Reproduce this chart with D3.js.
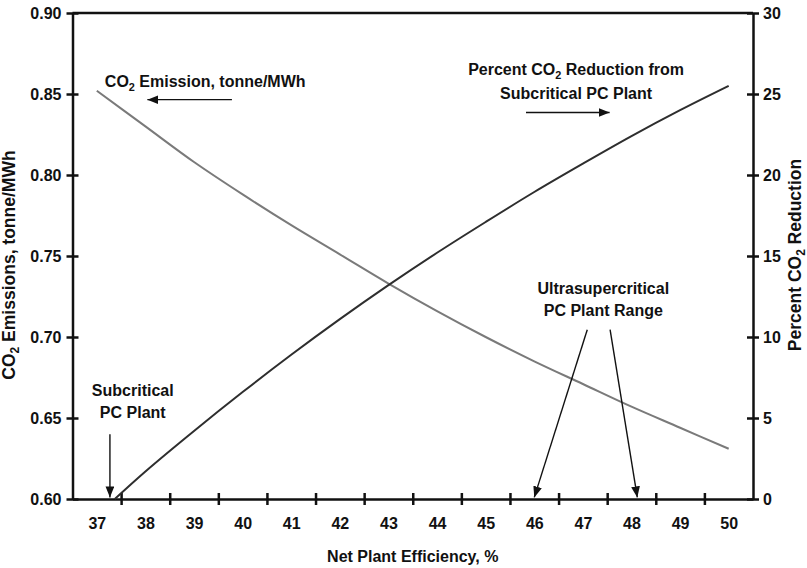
<!DOCTYPE html>
<html>
<head>
<meta charset="utf-8">
<script src="https://cdn.jsdelivr.net/npm/d3@7"></script>
<style>
  body { margin: 0; background: #fff; }
  svg text { font-family: "Liberation Sans", Arial, sans-serif; font-weight: bold; fill: #111; }
  .axis path, .axis line { stroke: #111; stroke-width: 2.5; }
  .axis text { font-size: 16px; }
</style>
</head>
<body>
<div id="chart"></div>
<script>
// net plant efficiency (%) - x categories
var efficiency = [37, 38, 39, 40, 41, 42, 43, 44, 45, 46, 47, 48, 49, 50];
// CO2 emission, tonne/MWh (left axis)
var emission = [0.852, 0.830, 0.808, 0.788, 0.769, 0.751, 0.733, 0.716, 0.700, 0.685, 0.671, 0.657, 0.644, 0.631];
// percent CO2 reduction from subcritical plant (right axis)
var reductionEff = [37.37, 38, 39, 40, 41, 42, 43, 44, 45, 46, 47, 48, 49, 50];
var reduction = [0, 1.7, 4.2, 6.6, 8.9, 11.1, 13.2, 15.2, 17.1, 18.95, 20.7, 22.4, 24.0, 25.5];
// tick labels
var leftTicks = [0.60, 0.65, 0.70, 0.75, 0.80, 0.85, 0.90];
var rightTicks = [0, 5, 10, 15, 20, 25, 30];

var width = 807, height = 568;
// plot box (note: "top" is reserved on window, so prefix these)
var plotLeft = 72.5, plotRight = 753, plotTop = 13, plotBottom = 499;

var svg = d3.select('#chart').append('svg')
  .attr('width', width)
  .attr('height', height);

var defs = svg.append('defs');
defs.append('marker')
  .attr('id', 'head')
  .attr('viewBox', '0 0 10 8')
  .attr('refX', 10).attr('refY', 4)
  .attr('markerUnits', 'userSpaceOnUse')
  .attr('markerWidth', 11).attr('markerHeight', 9)
  .attr('orient', 'auto')
  .append('path')
    .attr('d', 'M0,0 L10,4 L0,8 Z')
    .attr('fill', '#111');

// scales - categories sit between half-unit ticks
var x = d3.scaleLinear().domain([36.5, 50.5]).range([plotLeft, plotRight]);
var yL = d3.scaleLinear().domain([0.60, 0.90]).range([plotBottom, plotTop]);
var yR = d3.scaleLinear().domain([0, 30]).range([plotBottom, plotTop]);

// top frame line
svg.append('line')
  .attr('x1', plotLeft).attr('x2', plotRight)
  .attr('y1', plotTop).attr('y2', plotTop)
  .style('stroke', '#111').style('stroke-width', 2.5);

// x axis: tick marks at boundaries, labels at categories
var xAxis = svg.append('g')
  .attr('class', 'axis')
  .attr('transform', 'translate(0,' + plotBottom + ')')
  .call(d3.axisBottom(x)
    .tickValues(d3.range(37.5, 50, 1))
    .tickFormat('')
    .tickSizeInner(6)
    .tickSizeOuter(0));
xAxis.selectAll('.tick line').attr('y1', -6);

var xLabels = svg.append('g')
  .attr('class', 'axis')
  .attr('transform', 'translate(0,' + plotBottom + ')')
  .call(d3.axisBottom(x)
    .tickValues(efficiency)
    .tickFormat(d3.format('d'))
    .tickSize(0)
    .tickPadding(19));
xLabels.select('.domain').remove();

// left axis
var leftAxis = svg.append('g')
  .attr('class', 'axis')
  .attr('transform', 'translate(' + plotLeft + ',0)')
  .call(d3.axisLeft(yL)
    .tickValues(leftTicks)
    .tickFormat(d3.format('.2f'))
    .tickSizeInner(6)
    .tickSizeOuter(0)
    .tickPadding(5));
leftAxis.selectAll('.tick line').attr('x1', 6);

// right axis
var rightAxis = svg.append('g')
  .attr('class', 'axis')
  .attr('transform', 'translate(' + plotRight + ',0)')
  .call(d3.axisRight(yR)
    .tickValues(rightTicks)
    .tickFormat(d3.format('d'))
    .tickSizeInner(6)
    .tickSizeOuter(0)
    .tickPadding(4));
rightAxis.selectAll('.tick line').attr('x1', -6);

// series lines
var emissionLine = d3.line()
  .x(function(d, i) { return x(efficiency[i]); })
  .y(function(d) { return yL(d); })
  .curve(d3.curveCatmullRom);

var reductionLine = d3.line()
  .x(function(d, i) { return x(reductionEff[i]); })
  .y(function(d) { return yR(d); })
  .curve(d3.curveCatmullRom);

svg.append('path')
  .datum(emission)
  .attr('d', emissionLine)
  .style('fill', 'none')
  .style('stroke', '#7a7a7a')
  .style('stroke-width', 2);

svg.append('path')
  .datum(reduction)
  .attr('d', reductionLine)
  .style('fill', 'none')
  .style('stroke', '#2e2e2e')
  .style('stroke-width', 2);

// helper for text with a CO2 subscript
function co2Text(g, before, after, size) {
  var t = g.append('text').style('font-size', size + 'px');
  t.append('tspan').text(before + 'CO');
  t.append('tspan').text('2').style('font-size', (size * 0.68) + 'px').attr('dy', size * 0.25);
  t.append('tspan').text(after).attr('dy', -size * 0.25);
  return t;
}

// axis titles
svg.append('text')
  .attr('x', (plotLeft + plotRight) / 2)
  .attr('y', 561.5)
  .attr('text-anchor', 'middle')
  .style('font-size', '16px')
  .text('Net Plant Efficiency, %');

co2Text(svg, '', ' Emissions, tonne/MWh', 17.5)
  .attr('text-anchor', 'middle')
  .attr('transform', 'translate(15,265) rotate(-90)');

co2Text(svg, 'Percent ', ' Reduction', 17.5)
  .attr('text-anchor', 'middle')
  .attr('transform', 'translate(801,255) rotate(-90)');

// annotations
co2Text(svg, '', ' Emission, tonne/MWh', 16)
  .attr('text-anchor', 'middle')
  .attr('x', x(39.23)).attr('y', yL(0.8543));

co2Text(svg, 'Percent ', ' Reduction from', 16)
  .attr('text-anchor', 'middle')
  .attr('x', x(46.86)).attr('y', yR(26.15));

var notes = [
  { text: 'Subcritical PC Plant', x: 46.86, y: yR(24.71) },
  { text: 'Subcritical', x: 37.74, y: yL(0.6635) },
  { text: 'PC Plant', x: 37.74, y: yL(0.6502) },
  { text: 'Ultrasupercritical', x: 47.42, y: yL(0.7267) },
  { text: 'PC Plant Range', x: 47.42, y: yL(0.7129) }
];

svg.selectAll('.note')
  .data(notes)
  .enter()
  .append('text')
    .attr('class', 'note')
    .attr('text-anchor', 'middle')
    .attr('x', function(d) { return x(d.x); })
    .attr('y', function(d) { return d.y; })
    .style('font-size', '16px')
    .text(function(d) { return d.text; });

// arrows (from -> to), in data units
var arrows = [
  { x1: x(39.78), y1: yL(0.8465), x2: x(38.04), y2: yL(0.8465) },
  { x1: x(45.83), y1: yR(23.86), x2: x(47.55), y2: yR(23.86) },
  { x1: x(37.27), y1: yL(0.640), x2: x(37.27), y2: yL(0.601) },
  { x1: x(47.09), y1: yL(0.7045), x2: x(46.0), y2: yL(0.601) },
  { x1: x(47.56), y1: yL(0.7045), x2: x(48.12), y2: yL(0.601) }
];

svg.selectAll('.arrow')
  .data(arrows)
  .enter()
  .append('line')
    .attr('class', 'arrow')
    .attr('x1', function(d) { return d.x1; })
    .attr('y1', function(d) { return d.y1; })
    .attr('x2', function(d) { return d.x2; })
    .attr('y2', function(d) { return d.y2; })
    .attr('marker-end', 'url(#head)')
    .style('stroke', '#111')
    .style('stroke-width', 1.4);
</script>
</body>
</html>
